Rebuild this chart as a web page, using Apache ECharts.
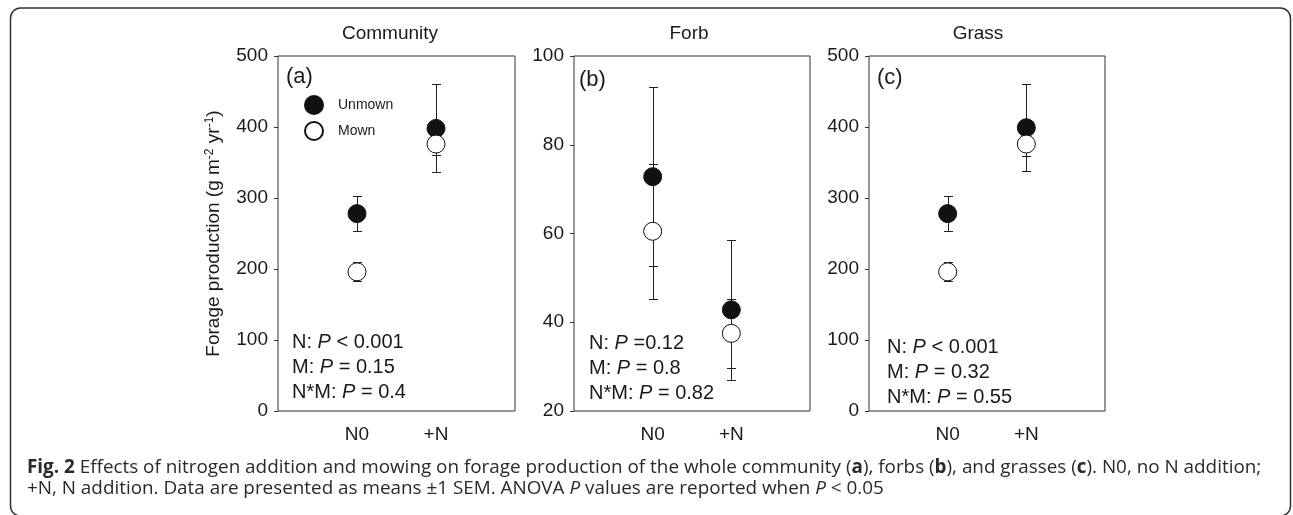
<!DOCTYPE html>
<html><head><meta charset="utf-8">
<script src="https://cdn.jsdelivr.net/npm/echarts@6/dist/echarts.min.js"></script>
<style>html,body{margin:0;padding:0;background:#fff}#c{width:1293px;height:515px}</style>
</head><body><div id="c"></div>
<script>
// ---- data ----
const treatments = ['N0', '+N'];
const panelTitles = ['Community', 'Forb', 'Grass'];
const panelLetters = ['(a)', '(b)', '(c)'];
const seriesNames = ['Unmown', 'Mown'];
const unmownMean = [[278, 398], [72.8, 42.8], [278, 399]];
const unmownSE   = [[25, 62], [20.2, 15.8], [25, 61]];
const mownMean   = [[196, 376], [60.5, 37.5], [196, 376]];
const mownSE     = [[13.5, 16], [15.2, 7.8], [13.5, 17]];
const yMin  = [0, 20, 0];
const yMax  = [500, 100, 500];
const yStep = [100, 20, 100];
const pTexts = [
  ['N: {i|P} < 0.001', 'M: {i|P} = 0.15', 'N*M: {i|P} = 0.4'],
  ['N: {i|P} =0.12', 'M: {i|P} = 0.8', 'N*M: {i|P} = 0.82'],
  ['N: {i|P} < 0.001', 'M: {i|P} = 0.32', 'N*M: {i|P} = 0.55']
];
const yAxisName = 'Forage production (g m{s|-2} yr{s|-1})';
const captionLines = [
  '{b|Fig. 2} Effects of nitrogen addition and mowing on forage production of the whole community ({b|a}), forbs ({b|b}), and grasses ({b|c}). N0, no N addition;',
  '+N, N addition. Data are presented as means \u00b11 SEM. ANOVA {i|P} values are reported when {i|P} < 0.05'
];

// ---- layout ----
const FONT = '"Liberation Sans", Arial, sans-serif';
const CAPFONT = '"Open Sans", "Noto Sans", sans-serif';
const TXT = '#1a1a1a';
const grids = [
  {left: 278, top: 56, width: 237, height: 355},
  {left: 574, top: 56, width: 236, height: 355},
  {left: 869, top: 56, width: 236, height: 355}
];
const titlePos = [[390, 33], [689, 33], [978, 33]];
const letterPos = [[286, 77], [579, 80], [877, 78]];
const pPos = [[292, [342, 367, 392]], [589, [343, 368, 393]], [887, [347, 372, 397]]];

// caption font size fitted to width
function capSize() {
  const c = document.createElement('canvas').getContext('2d');
  c.font = '100px ' + CAPFONT;
  const plain = captionLines[0].replace(/\{[a-z]\|([^}]*)\}/g, '$1');
  const w = c.measureText(plain).width;
  return 100 * 1230 / w;
}
const cs = capSize();

function errRender(params, api) {
  const x = api.value(0), y = api.value(1), e = api.value(2);
  const t = api.coord([x, y + e]);
  const b = api.coord([x, y - e]);
  const cx = Math.round(t[0]) + 0.5;
  const ty = Math.round(t[1]) + 0.5, by = Math.round(b[1]) + 0.5;
  const hw = 4.5;
  const style = {stroke: '#222', lineWidth: 1};
  return {type: 'group', children: [
    {type: 'line', shape: {x1: cx, y1: ty, x2: cx, y2: by}, style: style},
    {type: 'line', shape: {x1: cx - hw, y1: ty, x2: cx + hw, y2: ty}, style: style},
    {type: 'line', shape: {x1: cx - hw, y1: by, x2: cx + hw, y2: by}, style: style}
  ]};
}

const option = {
  animation: false,
  backgroundColor: '#fff',
  grid: grids.map(g => Object.assign({show: true, borderColor: '#333', borderWidth: 1, backgroundColor: 'transparent'}, g)),
  xAxis: grids.map((g, i) => ({
    type: 'value', gridIndex: i, min: 0, max: 3, interval: 1,
    axisLine: {show: false}, axisTick: {show: false}, splitLine: {show: false},
    axisLabel: {
      margin: 14, fontSize: 19, fontFamily: FONT, color: TXT,
      formatter: v => (v >= 1 && v <= treatments.length) ? treatments[v - 1] : ''
    }
  })),
  yAxis: grids.map((g, i) => ({
    type: 'value', gridIndex: i, min: yMin[i], max: yMax[i], interval: yStep[i],
    axisLine: {show: false},
    axisTick: {show: true, inside: false, length: 4, lineStyle: {color: '#333'}},
    splitLine: {show: false},
    axisLabel: {margin: 10, fontSize: 19, fontFamily: FONT, color: TXT},
    name: i === 0 ? yAxisName : '',
    nameLocation: 'middle', nameGap: 55, nameRotate: 90,
    nameTextStyle: {
      fontSize: 19, fontFamily: FONT, color: TXT,
      rich: {s: {fontSize: 12, fontFamily: FONT, color: TXT, verticalAlign: 'top', lineHeight: 14}}
    }
  })),
  legend: {
    data: seriesNames, orient: 'vertical', left: 304, top: 95, padding: 0,
    itemWidth: 18, itemHeight: 18, itemGap: 6, selectedMode: false, icon: 'circle',
    textStyle: {fontSize: 14, fontFamily: FONT, color: TXT, padding: [0, 0, 0, 10]}
  },
  series: [],
  graphic: []
};

for (let i = 0; i < 3; i++) {
  const mk = (means, ses) => treatments.map((t, j) => [j + 1, means[i][j], ses[i][j]]);
  option.series.push({
    type: 'custom', xAxisIndex: i, yAxisIndex: i, z: 2, silent: true,
    renderItem: errRender, encode: {x: 0, y: 1}, data: mk(unmownMean, unmownSE)
  });
  option.series.push({
    type: 'custom', xAxisIndex: i, yAxisIndex: i, z: 2, silent: true,
    renderItem: errRender, encode: {x: 0, y: 1}, data: mk(mownMean, mownSE)
  });
  option.series.push({
    name: seriesNames[0], type: 'scatter', xAxisIndex: i, yAxisIndex: i, z: 3,
    symbol: 'circle', symbolSize: 18,
    itemStyle: {color: '#111', borderColor: '#111', borderWidth: 1, opacity: 1},
    data: mk(unmownMean, unmownSE).map(d => [d[0], d[1]])
  });
  option.series.push({
    name: seriesNames[1], type: 'scatter', xAxisIndex: i, yAxisIndex: i, z: 4,
    symbol: 'circle', symbolSize: 18,
    itemStyle: {color: '#fff', borderColor: '#111', borderWidth: 1, opacity: 1},
    data: mk(mownMean, mownSE).map(d => [d[0], d[1]])
  });
  // panel title
  option.graphic.push({type: 'text', silent: true, style: {
    text: panelTitles[i], x: titlePos[i][0], y: titlePos[i][1] + 1,
    font: '19px ' + FONT, fill: TXT, align: 'center', verticalAlign: 'middle'}});
  // panel letter
  option.graphic.push({type: 'text', silent: true, style: {
    text: panelLetters[i], x: letterPos[i][0], y: letterPos[i][1],
    font: '22px ' + FONT, fill: TXT, align: 'left', verticalAlign: 'middle'}});
  // P-value lines
  pTexts[i].forEach((t, k) => {
    option.graphic.push({type: 'text', silent: true, style: {
      text: t, x: pPos[i][0], y: pPos[i][1][k],
      font: '20px ' + FONT, fill: TXT, align: 'left', verticalAlign: 'middle',
      rich: {i: {font: 'italic 20px ' + FONT, fill: TXT}}}});
  });
}

// outer frame
option.graphic.push({type: 'rect', silent: true, z: -1,
  shape: {x: 10.5, y: 8, width: 1280, height: 508, r: 10},
  style: {fill: 'none', stroke: '#333', lineWidth: 1.5}});
// caption
captionLines.forEach((t, k) => {
  option.graphic.push({type: 'text', silent: true, style: {
    text: t, x: 27, y: [468, 489][k],
    font: cs.toFixed(2) + 'px ' + CAPFONT, fill: '#2a2a2a', align: 'left', verticalAlign: 'middle',
    rich: {
      b: {font: 'bold ' + cs.toFixed(2) + 'px ' + CAPFONT, fill: '#2a2a2a'},
      i: {font: 'italic ' + cs.toFixed(2) + 'px ' + CAPFONT, fill: '#2a2a2a'}
    }}});
});

const chart = echarts.init(document.getElementById('c'), null, {renderer: 'canvas'});
chart.setOption(option);
</script></body></html>
